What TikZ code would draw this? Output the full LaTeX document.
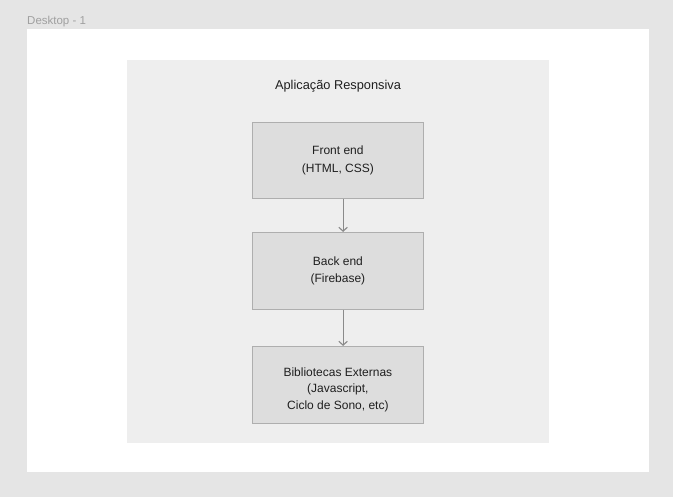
\documentclass[tikz,border=0pt]{standalone}
\usepackage{fontspec}
\setmainfont{Liberation Sans}
\usetikzlibrary{arrows.meta}
\definecolor{bgout}{HTML}{E5E5E5}
\definecolor{frame}{HTML}{FFFFFF}
\definecolor{cont}{HTML}{EEEEEE}
\definecolor{boxfill}{HTML}{DDDDDD}
\definecolor{boxline}{HTML}{AEAEAE}
\definecolor{arrowc}{HTML}{8A8A8A}
\definecolor{lbl}{HTML}{A0A0A0}
\begin{document}
\begin{tikzpicture}[x=1pt,y=-1pt,
  blk/.style={draw=boxline, fill=boxfill, line width=0.8pt, minimum width=171pt, anchor=north west, inner sep=0pt, font=\fontsize{12}{16.5}\selectfont, align=center, text=black!88},
  conn/.style={draw=arrowc, line width=1.1pt, -{Straight Barb[length=4pt,width=8.5pt,line width=1.1pt]}}]
\useasboundingbox (0,0) rectangle (673,497);
\fill[bgout] (0,0) rectangle (673,497);
\fill[frame] (27,29) rectangle (649,472);
\node[anchor=base west, inner sep=0pt, text=lbl, font=\fontsize{11.5}{13}\selectfont] (dlabel) at (27,24.5) {Desktop - 1};
\fill[cont] (127,60) rectangle (549,443);
\node[inner sep=0pt, font=\fontsize{12.8}{15}\selectfont, text=black!88] (title) at (338,86) {Aplicação Responsiva};
\node[blk, minimum height=76pt, font=\fontsize{12}{18}\selectfont] (front) at (252,122) {Front end\\(HTML, CSS)};
\node[blk, minimum height=77pt] (back) at (252,232) {Back end\\(Firebase)};
\node[blk, minimum height=77pt] (libs) at (252,346) {};
\node[inner sep=0pt, font=\fontsize{12}{16.5}\selectfont, align=center, text=black!88] (libstext) at ([yshift=-4.5pt]libs.center) {Bibliotecas Externas\\(Javascript,\\Ciclo de Sono, etc)};
\draw[conn] ([xshift=5.2pt]front.south) -- ([xshift=5.2pt]back.north);
\draw[conn] ([xshift=5.2pt]back.south) -- ([xshift=5.2pt]libs.north);
\end{tikzpicture}
\end{document}
